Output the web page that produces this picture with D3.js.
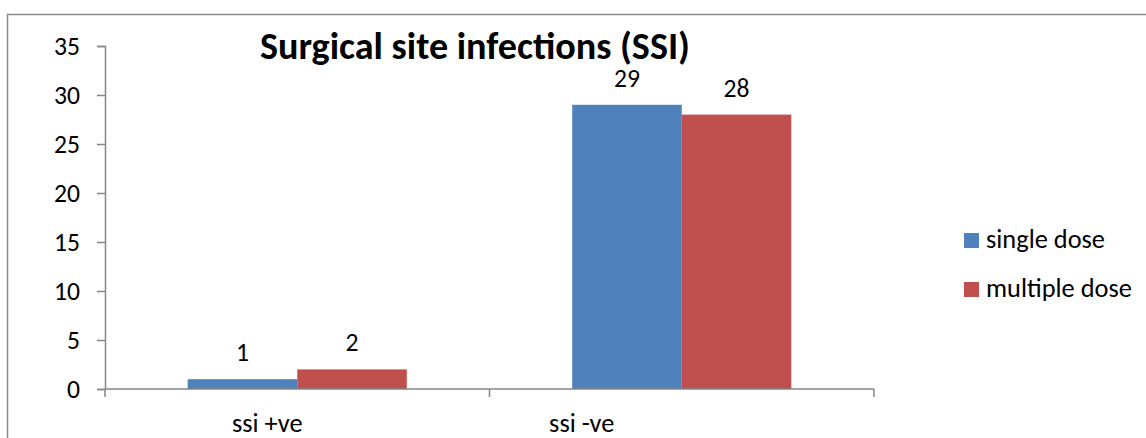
<!DOCTYPE html>
<html>
<head>
<meta charset="utf-8">
<script src="https://cdn.jsdelivr.net/npm/d3@7"></script>
<style>
  html, body { margin: 0; padding: 0; background: #fff; }
  svg { display: block; }
  text { font-family: Carlito, Calibri, Lato, "Open Sans", sans-serif; fill: #000; }
</style>
</head>
<body>
<svg id="chart" width="1146" height="438"></svg>
<script>
// ---- data ----
const categories = ["ssi +ve", "ssi -ve"];
const seriesNames = ["single dose", "multiple dose"];
const singleDose = [1, 29];
const multipleDose = [2, 28];
const yTicks = [0, 5, 10, 15, 20, 25, 30, 35];
const titleText = "Surgical site infections (SSI)";

// ---- layout ----
const colors = ["#4F81BD", "#C0504D"];
const plot = { left: 105, right: 874, top: 46, bottom: 389 };
const catLabelShift = [-30, -100];

const svg = d3.select("#chart");

// outer frame
svg.append("rect")
  .attr("x", 7.5).attr("y", 14.5).attr("width", 1200).attr("height", 500)
  .attr("fill", "none").attr("stroke", "#8a8a8a").attr("stroke-width", 1.5);

const y = d3.scaleLinear().domain([0, 35]).range([plot.bottom, plot.top]);
const x0 = d3.scaleBand().domain(categories).range([plot.left, plot.right]).paddingInner(0).paddingOuter(0);
const x1 = d3.scaleBand().domain(seriesNames).range([0, x0.bandwidth()]).paddingInner(0).paddingOuter(0.755);

const values = [singleDose, multipleDose];

// normal font size fitted so text widths resemble reference
const probe = svg.append("text").attr("font-size", 22).text("multiple dose");
const fs = 22 * 146 / probe.node().getComputedTextLength();
probe.remove();
const probe2 = svg.append("text").attr("font-size", 22).text("30");
const fsNum = 22 * 26 / probe2.node().getComputedTextLength();
probe2.remove();

// bars
const g = svg.append("g");
categories.forEach((c, ci) => {
  seriesNames.forEach((s, si) => {
    const v = values[si][ci];
    g.append("rect")
      .attr("x", x0(c) + x1(s))
      .attr("y", y(v))
      .attr("width", x1.bandwidth())
      .attr("height", y(0) - y(v))
      .attr("fill", colors[si]);
    g.append("text")
      .attr("x", x0(c) + x1(s) + x1.bandwidth() / 2)
      .attr("y", y(v) - 18)
      .attr("text-anchor", "middle")
      .attr("font-size", fsNum)
      .text(v);
  });
});

// y axis
const yAxis = d3.axisLeft(y).tickValues(yTicks).tickSize(8).tickPadding(17);
const ya = svg.append("g").attr("transform", `translate(${plot.left},0)`).call(yAxis);
ya.select(".domain").attr("stroke", "#868686").attr("stroke-width", 1.5);
ya.selectAll(".tick line").attr("stroke", "#868686").attr("stroke-width", 1.5);
ya.selectAll(".tick text").attr("font-size", fsNum).attr("font-family", null).attr("fill", "#000");

// x axis line and ticks
const xa = svg.append("g");
xa.append("line").attr("x1", plot.left).attr("x2", plot.right).attr("y1", y(0)).attr("y2", y(0))
  .attr("stroke", "#868686").attr("stroke-width", 1.5);
const xTickPos = categories.map(c => x0(c)).concat([x0(categories[categories.length - 1]) + x0.bandwidth()]);
xa.selectAll("line.tk").data(xTickPos).enter().append("line").attr("class", "tk")
  .attr("x1", d => d).attr("x2", d => d).attr("y1", y(0)).attr("y2", y(0) + 8)
  .attr("stroke", "#868686").attr("stroke-width", 1.5);
xa.selectAll("text.cat").data(categories).enter().append("text").attr("class", "cat")
  .attr("x", (d, i) => x0(d) + x0.bandwidth() / 2 + catLabelShift[i])
  .attr("y", 432)
  .attr("text-anchor", "middle")
  .attr("font-size", fs)
  .text(d => d);

// title
const t = svg.append("text")
  .attr("x", 475).attr("y", 59)
  .attr("text-anchor", "middle")
  .attr("font-weight", "bold")
  .attr("font-size", 34)
  .text(titleText);
const tw = t.node().getComputedTextLength();
t.attr("font-size", 34 * 430 / tw);

// legend
const lg = svg.append("g");
seriesNames.forEach((s, i) => {
  const yy = 233 + i * 49;
  lg.append("rect").attr("x", 964).attr("y", yy).attr("width", 15).attr("height", 15).attr("fill", colors[i]);
  lg.append("text").attr("x", 986).attr("y", yy + 15).attr("font-size", fs).text(s);
});
</script>
</body>
</html>
